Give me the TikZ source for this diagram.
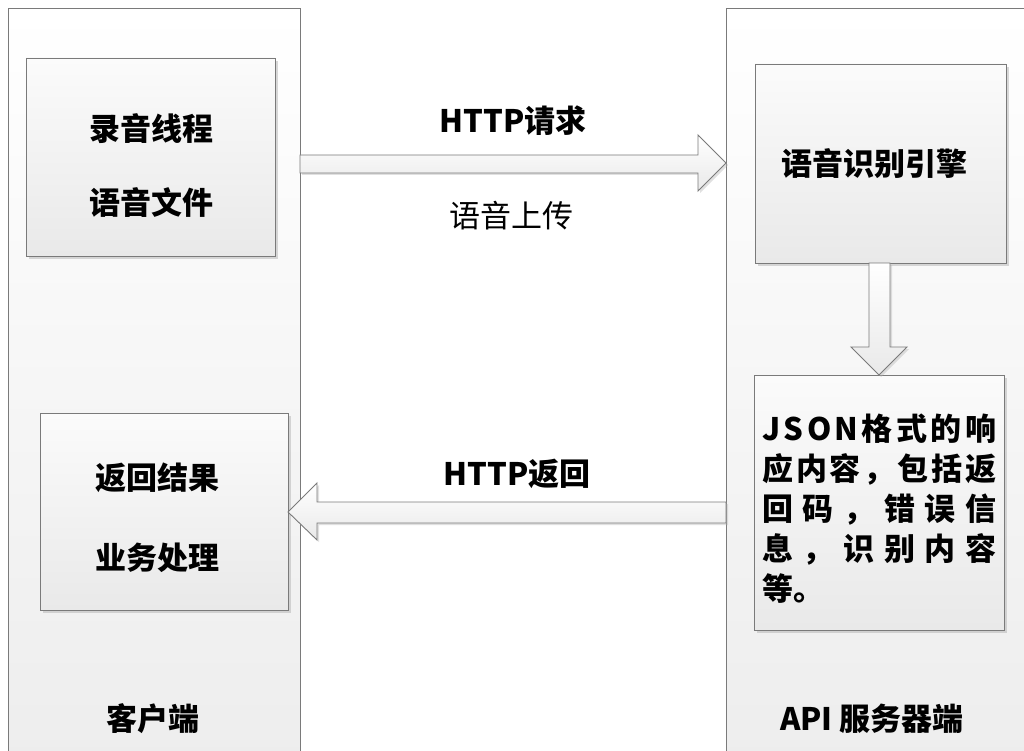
\documentclass[tikz,border=0pt]{standalone}
\usepackage{fontspec}
\setmainfont{Noto Sans CJK SC}
\usetikzlibrary{calc,shadows}
\definecolor{edge}{HTML}{7A7A7A}
\definecolor{panelbot}{HTML}{EDEDED}
\definecolor{boxtop}{HTML}{FBFBFB}
\definecolor{boxbot}{HTML}{E9E9E9}
\newcommand{\jline}[1]{\makebox[234pt][l]{#1}}
\begin{document}
\begin{tikzpicture}[x=1pt,y=-1pt,
  panel/.style={draw=edge, line width=0.9pt, top color=white, bottom color=panelbot,
    anchor=north west, inner sep=0, outer sep=0},
  box/.style={draw=edge, line width=0.9pt, top color=boxtop, bottom color=boxbot,
    anchor=north west, inner sep=0, outer sep=0,
    drop shadow={shadow xshift=3pt, shadow yshift=-3pt, fill=black!30, opacity=0.5}},
  blockarrow/.style={draw=edge, line width=0.9pt, top color=white, bottom color=boxbot,
    drop shadow={shadow xshift=2pt, shadow yshift=-2pt, fill=black!30, opacity=0.4}},
  bigtxt/.style={font=\fontsize{31}{40}\selectfont\bfseries, inner sep=0},
  plaintxt/.style={font=\fontsize{31}{40}\selectfont, inner sep=0},
]
\useasboundingbox (0,0) rectangle (1024,751);
\fill[white] (0,0) rectangle (1024,751);

% panels
\node[panel, minimum width=292pt, minimum height=760pt] (lp) at (8,8) {};
\node[panel, minimum width=310pt, minimum height=760pt] (rp) at (726,8) {};

% boxes
\node[box, minimum width=249pt, minimum height=198pt] (b1) at (26,58) {};
\node[box, minimum width=248pt, minimum height=197pt] (b2) at (40,413) {};
\node[box, minimum width=251pt, minimum height=199pt] (b3) at (755,64) {};
\node[box, minimum width=250pt, minimum height=255pt] (b4) at (754,375) {};

% texts in boxes
\node[bigtxt] (t1a) at (151,129) {录音线程};
\node[bigtxt] (t1b) at (151,203) {语音文件};
\node[bigtxt] (t2a) at (157,478) {返回结果};
\node[bigtxt] (t2b) at (157,558) {业务处理};
\node[bigtxt] (t3) at (874,164) {语音识别引擎};
\node[bigtxt, align=left, anchor=north west] (t4) at (762,414) {%
\jline{J\hfill S\hfill O\hfill N\hfill 格\hfill 式\hfill 的\hfill 响}\\
\jline{应\hfill 内\hfill 容\hfill ，\hfill 包\hfill 括\hfill 返}\\
\jline{回\hfill 码\hfill ，\hfill 错\hfill 误\hfill 信}\\
\jline{息\hfill ，\hfill 识\hfill 别\hfill 内\hfill 容}\\
\jline{等。\hfill}};

% panel labels
\node[bigtxt] (lpl) at (153,719) {客户端};
\node[bigtxt] (rpl) at (872,719) {API 服务器端};

% block arrows
\draw[blockarrow] (lp.north east |- 0,155) -- (698,155) -- (698,135)
  -- (rp.north west |- 0,163) -- (698,191) -- (698,173) -- (lp.north east |- 0,173) -- cycle;
\draw[blockarrow] (869,0 |- b3.south) -- (869,347) -- (851,347) -- (b4.north -| 879,0)
  -- (907,347) -- (890,347) -- (890,0 |- b3.south) -- cycle;
\draw[blockarrow] (rp.north west |- 0,502) -- (317,502) -- (317,483) -- (b2.east |- 0,512)
  -- (317,540) -- (317,523) -- (rp.north west |- 0,523) -- cycle;

% arrow labels
\node[bigtxt] (h1) at (513,121) {HTTP请求};
\node[plaintxt] (h2) at (511,216) {语音上传};
\node[bigtxt] (h3) at (517,474) {HTTP返回};
\end{tikzpicture}
\end{document}
